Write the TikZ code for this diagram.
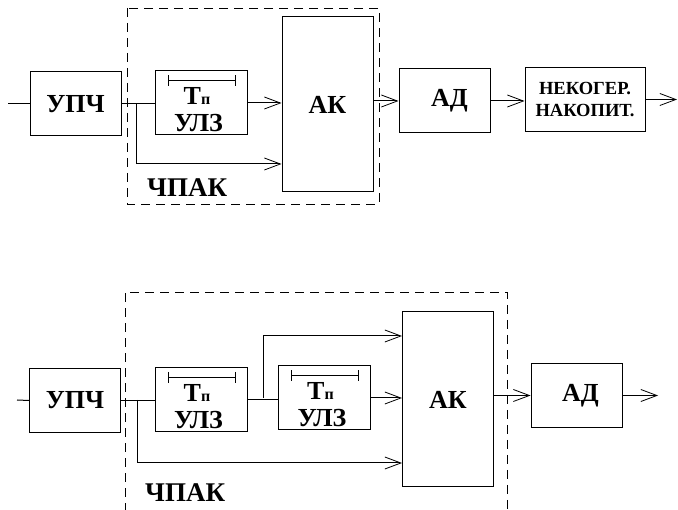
\documentclass[tikz,border=0pt]{standalone}
\usepackage{fontspec}
\setmainfont{Liberation Serif}
\usetikzlibrary{arrows.meta}
\newcommand\myulz[2]{%
  \node[blk=92pt] (#1) at (#2) {};
  \draw[thin line] ([xshift=-33pt,yshift=-10pt]#1.north) -- ([xshift=34pt,yshift=-10pt]#1.north);
  \draw[thin line] ([xshift=-33pt,yshift=-5pt]#1.north) -- ([xshift=-33pt,yshift=-16pt]#1.north);
  \draw[thin line] ([xshift=34pt,yshift=-5pt]#1.north) -- ([xshift=34pt,yshift=-16pt]#1.north);
  \node[lbl, anchor=base] (#1t) at ([xshift=-4pt,yshift=-34.5pt]#1.north) {T{\fontsize{16}{16}\selectfont п}};
  \node[lbl, anchor=base] (#1n) at ([xshift=-2.5pt,yshift=-61.5pt]#1.north) {УЛЗ};
}
\begin{document}
\begin{tikzpicture}[x=1pt,y=-1pt,
  ln/.style={line width=1pt},
  thin line/.style={line width=0.9pt},
  sig/.style={line width=1pt,-{Straight Barb[length=16pt,width=12pt,line width=0.8pt]}},
  blk/.style={draw, line width=1pt, minimum width=#1, minimum height=64pt, inner sep=0pt,
    font=\bfseries\fontsize{26}{26}\selectfont},
  blk/.default=91pt,
  lbl/.style={inner sep=0pt, font=\bfseries\fontsize{26}{26}\selectfont},
  frame/.style={line width=0.9pt, dash pattern=on 9pt off 6pt}
]
\useasboundingbox (0,0) rectangle (678,510);

% ---------- top diagram ----------
\draw[frame] (127,8) rectangle (379,204);
\node[blk] (upch1) at (75.5,104) {УПЧ};
\myulz{ulz1}{201,103}
\node[blk, minimum height=175pt] (ak1) at (327.5,104.5) {АК};
\node[blk] (ad1) at (444.5,101) {\hspace{10pt}АД};
\node[blk=120pt, align=center, font=\bfseries\fontsize{18.5}{22}\selectfont] (nak) at (585,99.5) {НЕКОГЕР.\\НАКОПИТ.};
\node[lbl, anchor=base west, font=\bfseries\fontsize{27}{27}\selectfont] (chpak1) at (147,197) {ЧПАК};

\coordinate (in1) at (8,104);
\coordinate (j1) at (136,104);
\coordinate (out1) at (677,99.5);
\draw[ln] (in1) -- (upch1.west);
\draw[ln] (upch1.east) -- (upch1.east -| ulz1.west);
\draw[sig] (j1) |- ([yshift=-59.5pt]ak1.west);
\draw[sig] (ulz1.east) -- (ulz1.east -| ak1.west);
\draw[sig] (ad1.west -| ak1.east) -- (ad1.west);
\draw[sig] (ad1.east) -- (ad1.east -| nak.west);
\draw[sig] (nak.east) -- (out1);

% ---------- bottom diagram ----------
\draw[frame] (125,512) -- (125,292) -- (507,292) -- (507,512);
\node[blk] (upch2) at (75,400.5) {УПЧ};
\myulz{ulz2a}{201,399.5}
\myulz{ulz2b}{324.5,398}
\node[blk, minimum height=175pt] (ak2) at (448,399.5) {АК};
\node[blk] (ad2) at (576.5,395.5) {\hspace{8pt}АД};
\node[lbl, anchor=base west, font=\bfseries\fontsize{27}{27}\selectfont] (chpak2) at (145,502) {ЧПАК};

\coordinate (in2) at (17,400);
\coordinate (j3) at (137,400);
\coordinate (j4) at (263,398);
\coordinate (out2) at (658,395.5);
\draw[ln] (in2) -- (upch2.west);
\draw[ln] (upch2.east) -- (upch2.east -| ulz2a.west);
\draw[sig] (j3) |- ([yshift=-63.5pt]ak2.west);
\draw[ln] (ulz2a.east) -- (ulz2a.east -| ulz2b.west);
\draw[sig] (j4) |- ([yshift=63.5pt]ak2.west);
\draw[sig] (ulz2b.east) -- (ulz2b.east -| ak2.west);
\draw[sig] (ad2.west -| ak2.east) -- (ad2.west);
\draw[sig] (ad2.east) -- (out2);
\end{tikzpicture}
\end{document}
